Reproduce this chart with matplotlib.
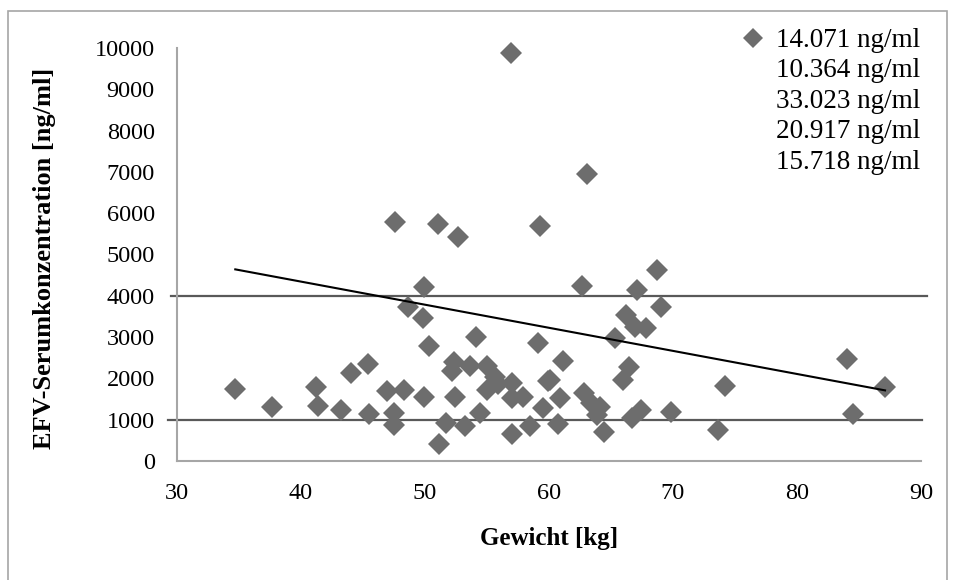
import matplotlib.pyplot as plt
from matplotlib.lines import Line2D
from matplotlib.patches import Rectangle

plt.rcParams['font.family'] = ['Liberation Serif', 'DejaVu Serif']

# body weight [kg] and EFV serum concentration [ng/ml]
gewicht = [34.7, 37.7, 41.2, 41.35, 43.2, 44.0, 45.4, 45.5, 46.9, 47.5,
           47.5, 47.6, 48.3, 48.65, 49.8, 49.9, 49.9, 50.3, 51.07, 51.15,
           51.7, 52.2, 52.3, 52.4, 52.7, 53.2, 53.6, 54.1, 54.4, 55.0,
           55.0, 55.65, 55.9, 56.9, 57.0, 57.0, 57.0, 57.9, 58.5, 59.1,
           59.27, 59.5, 59.9, 60.1, 60.75, 60.9, 61.15, 62.7, 62.8, 63.1,
           63.4, 63.85, 64.1, 64.46, 65.3, 66.0, 66.2, 66.45, 66.7, 66.9,
           67.1, 67.4, 67.8, 68.7, 69.0, 69.8, 73.6, 74.2, 84.05, 84.5,
           87.1]
konzentration = [1734, 1313, 1797, 1338, 1233, 2136, 2346, 1150, 1700, 1153,
                 880, 5788, 1717, 3732, 3466, 4215, 1540, 2788, 5732, 420,
                 911, 2170, 2390, 1555, 5425, 854, 2290, 2991, 1168, 2290,
                 1717, 2039, 1860, 9867, 1900, 1516, 660, 1540, 846, 2861,
                 5683, 1280, 1930, 1960, 885, 1516, 2410, 4240, 1637, 6941,
                 1395, 1112, 1313, 709, 2967, 1959, 3531, 2280, 1033, 3248,
                 4145, 1233, 3209, 4636, 3732, 1192, 760, 1826, 2467, 1137,
                 1797]

# linear trend (start / end)
trend_x = [34.7, 87.1]
trend_y = [4640, 1710]

# reference range lines
ref_werte = [1000, 4000]
ref_x = [[29.3, 90.05], [29.5, 90.5]]

legend_labels = ['14.071 ng/ml', '10.364 ng/ml', '33.023 ng/ml',
                 '20.917 ng/ml', '15.718 ng/ml']

fig = plt.figure(figsize=(9.56, 5.8), dpi=100)
ax = fig.add_axes([177 / 956, 1 - 461 / 580, (921 - 177) / 956, (461 - 48) / 580])

grau = '#6d6d6d'
ax.plot(gewicht, konzentration, linestyle='None', marker='D', ms=11,
        color=grau, markeredgewidth=0, zorder=3, clip_on=False)

for y, xs in zip(ref_werte, ref_x):
    ax.plot(xs, [y, y], color='#595959', lw=1.6, clip_on=False, zorder=2)

ax.plot(trend_x, trend_y, color='black', lw=1.5, zorder=4)

ax.set_xlim(30, 90)
ax.set_ylim(0, 10000)
ax.set_xticks(range(30, 91, 10))
ax.set_yticks(range(0, 10001, 1000))
ax.tick_params(length=0, labelsize=17.5)
ax.tick_params(axis='x', pad=16)
ax.tick_params(axis='y', pad=16)

for s in ['top', 'right']:
    ax.spines[s].set_visible(False)
for s in ['left', 'bottom']:
    ax.spines[s].set_color('#a6a6a6')
    ax.spines[s].set_linewidth(1.5)

ax.set_xlabel('Gewicht [kg]', fontsize=18, fontweight='bold')
ax.set_ylabel('EFV-Serumkonzentration [ng/ml]', fontsize=19, fontweight='bold')
ax.xaxis.set_label_coords(0.5, (461 - 527) / 413)
ax.yaxis.set_label_coords((56 - 177) / 744, 0.49)

handles = [Line2D([], [], linestyle='None', marker='D', ms=10.5, color=grau,
                  markeredgewidth=0)]
handles += [Line2D([], [], linestyle='None', marker='None') for _ in legend_labels[1:]]
ax.legend(handles, legend_labels, loc='upper left', frameon=False, fontsize=19.5,
          handlelength=0.78, handletextpad=0.45, labelspacing=0.2,
          borderpad=0, borderaxespad=0, bbox_to_anchor=(742.5 / 956, 1 - 28 / 580),
          bbox_transform=fig.transFigure)

# outer chart border
fig.patches.append(Rectangle((8 / 956, -0.05), (947 - 8) / 956, 1 - 11 / 580 + 0.05,
                             transform=fig.transFigure, fill=False,
                             edgecolor='#a6a6a6', lw=1.2))

fig.savefig('out.png', dpi=100)
